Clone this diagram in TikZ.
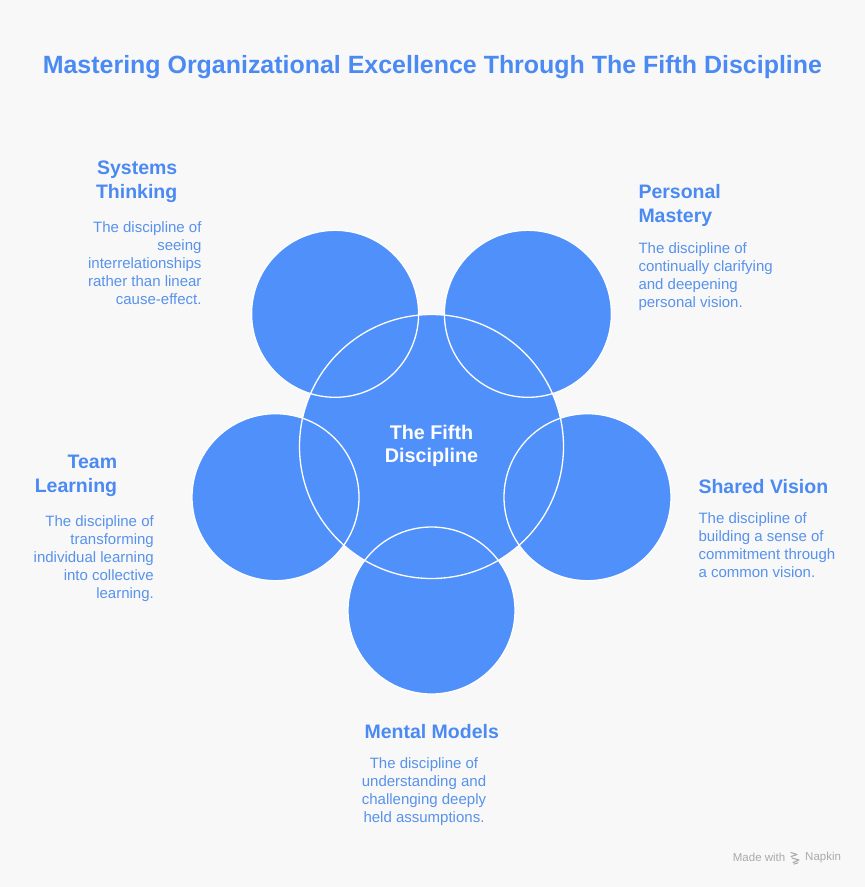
\documentclass[tikz,border=0pt]{standalone}
\usepackage{fontspec}
\setmainfont{Liberation Sans}
\definecolor{bg}{RGB}{248,248,248}
\definecolor{circblue}{RGB}{80,144,250}
\definecolor{headblue}{RGB}{74,138,242}
\definecolor{descblue}{RGB}{88,146,236}
\definecolor{wmgray}{RGB}{170,170,170}
\begin{document}
\begin{tikzpicture}[x=1pt,y=-1pt,
  disc/.style={circle, fill=circblue, inner sep=0pt, minimum size=167pt},
  ring/.style={draw=white, line width=1.3pt},
  head/.style={inner sep=0pt, font=\bfseries\fontsize{19.5}{24}\selectfont, text=headblue},
  desc/.style={inner sep=0pt, font=\fontsize{15}{18}\selectfont, text=descblue},
  ctext/.style={inner sep=0pt, font=\bfseries\fontsize{19.75}{23.4}\selectfont, text=white, align=center},
  wm/.style={inner sep=0pt, font=\fontsize{11.5}{13}\selectfont, text=wmgray}]
\fill[bg] (0,0) rectangle (865,887);
\useasboundingbox (0,0) rectangle (865,887);
% title
\node[inner sep=0pt, anchor=base, font=\bfseries\fontsize{24.95}{28}\selectfont, text=headblue] (title) at (432.4,73.8)
  {Mastering Organizational Excellence Through The Fifth Discipline};
% circles
\node[disc] (tl) at (335.1,313.8) {};
\node[disc] (tr) at (527.9,313.8) {};
\node[disc] (l) at (275.5,497.2) {};
\node[disc] (r) at (587.5,497.2) {};
\node[disc] (b) at (431.5,610.5) {};
\node[disc, minimum size=264pt, ring] (c) at (431.5,446.5) {};
\foreach \n in {tl,tr,l,r,b} \draw[ring] (\n.center) circle[radius=83.5];
\node[ctext, anchor=north] (ct) at (431.5,425) {The Fifth\\Discipline};
% Systems Thinking
\node[head, anchor=north east, align=right] (sth) at (177.5,160.5) {Systems\\Thinking};
\node[desc, anchor=north east, align=right] (std) at (201.7,221) {The discipline of\\seeing\\interrelationships\\rather than linear\\cause-effect.};
% Personal Mastery
\node[head, anchor=north west, align=left] (pmh) at (638.3,184.5) {Personal\\Mastery};
\node[desc, anchor=north west, align=left] (pmd) at (638.3,242.7) {The discipline of\\continually clarifying\\and deepening\\personal vision.};
% Team Learning
\node[head, anchor=north east, align=right] (tlh) at (117.3,454.5) {Team\\Learning};
\node[desc, anchor=north east, align=right] (tld) at (154,515.4) {The discipline of\\transforming\\individual learning\\into collective\\learning.};
% Shared Vision
\node[head, anchor=north west, align=left] (svh) at (698.3,478.8) {Shared Vision};
\node[desc, anchor=north west, align=left] (svd) at (698.3,512.7) {The discipline of\\building a sense of\\commitment through\\a common vision.};
% Mental Models
\node[head, anchor=north, align=center] (mmh) at (431.7,724.5) {Mental Models};
\node[desc, anchor=north, align=center] (mmd) at (424,757.7) {The discipline of\\understanding and\\challenging deeply\\held assumptions.};
% watermark
\node[wm, anchor=west] (mw) at (732.7,857.5) {Made with};
\node[wm, anchor=west] (np) at (805,857.5) {Napkin};
\draw[wmgray, line width=1.1pt, line cap=round, line join=round]
  (791,852.5) -- (797,854.5) -- (791,856.5) (792,858) -- (799,860) -- (793,862.5) (794,864) -- (798,862.8);
\end{tikzpicture}
\end{document}
